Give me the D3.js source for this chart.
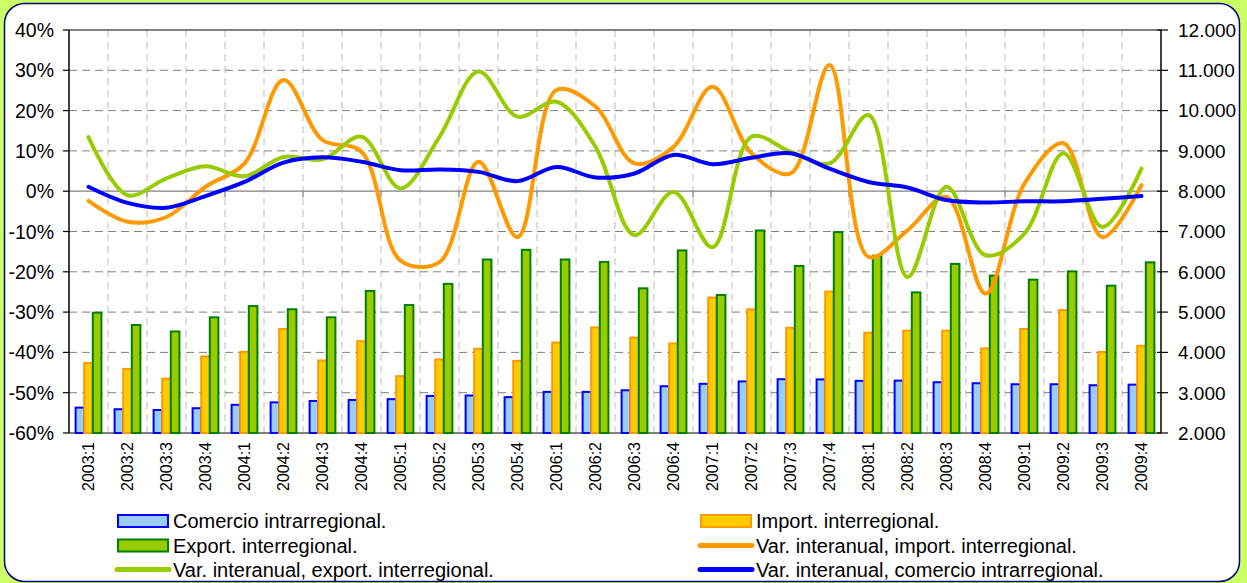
<!DOCTYPE html>
<html>
<head>
<meta charset="utf-8">
<script src="https://cdn.jsdelivr.net/npm/d3@7"></script>
<style>
  body { margin: 0; background: #ccff66; }
  svg { display: block; font-family: "Liberation Sans", Arial, sans-serif; }
</style>
</head>
<body>
<svg id="chart" width="1247" height="583"></svg>
<script>
// quarters
const quarters = ["2003:1","2003:2","2003:3","2003:4","2004:1","2004:2","2004:3","2004:4",
  "2005:1","2005:2","2005:3","2005:4","2006:1","2006:2","2006:3","2006:4",
  "2007:1","2007:2","2007:3","2007:4","2008:1","2008:2","2008:3","2008:4",
  "2009:1","2009:2","2009:3","2009:4"];

// bars (right axis)
const comercioIntra = [2630,2590,2570,2615,2700,2760,2795,2820,2840,2920,2930,2890,3020,3020,
  3060,3160,3220,3280,3335,3330,3295,3300,3260,3235,3210,3210,3185,3200];
const importInter = [3735,3590,3350,3900,4015,4580,3800,4280,3410,3825,4090,3790,4245,4620,
  4365,4220,5360,5070,4610,5510,4490,4540,4540,4100,4580,5050,4010,4165];
const exportInter = [4985,4680,4520,4870,5150,5070,4870,5525,5175,5700,6305,6545,6305,6245,
  5590,6530,5425,7025,6145,6985,6400,5490,6195,5905,5805,6010,5655,6235];

// year-on-year change (left axis, %)
const varImport = [-2.4,-7.6,-6.4,1.1,6.9,27.6,12.7,9.8,-17.2,-17.6,7.3,-11.4,25.1,21.0,
  6.9,11.0,25.9,9.4,4.4,31.3,-16.3,-9.7,-1.4,-25.4,1.9,11.9,-11.4,1.5];
const varExport = [13.4,-1.0,3.2,6.2,3.7,8.5,7.9,13.5,0.7,13.5,29.7,18.5,22.2,11.0,
  -10.9,-0.2,-13.9,13.5,9.8,6.9,18.9,-21.3,1.1,-15.9,-10.5,9.4,-8.9,5.6];
const varComercio = [1.1,-2.9,-4.1,-1.2,2.3,7.1,8.4,7.3,5.2,5.4,4.8,2.5,6.0,3.4,
  4.4,9.0,6.7,8.3,9.4,5.6,2.3,0.9,-2.2,-2.8,-2.5,-2.5,-1.9,-1.2];

const leftTicks = [-60,-50,-40,-30,-20,-10,0,10,20,30,40];
const rightTicks = [2000,3000,4000,5000,6000,7000,8000,9000,10000,11000,12000];

const svg = d3.select("#chart");

// white rounded panel
svg.append("rect")
  .attr("x", 4.5).attr("y", 3.5).attr("width", 1235).attr("height", 578)
  .attr("rx", 20).attr("ry", 20)
  .attr("fill", "#fff").attr("stroke", "#000080").attr("stroke-width", 1.5);

const plot = {left: 69, right: 1161, top: 30, bottom: 433};

let x = d3.scaleBand().domain(quarters).range([plot.left, plot.right]).padding(0);
let yL = d3.scaleLinear().domain([-60, 40]).range([plot.bottom, plot.top]);
let yR = d3.scaleLinear().domain([2000, 12000]).range([plot.bottom, plot.top]);

let g = svg.append("g");

// vertical grid at category boundaries
g.selectAll(".vgrid").data(quarters.slice(1)).enter().append("line")
  .attr("class", "vgrid")
  .attr("x1", d => x(d)).attr("x2", d => x(d))
  .attr("y1", plot.top).attr("y2", plot.bottom)
  .attr("stroke", "#c8c8c8").attr("stroke-width", 1.2).attr("stroke-dasharray", "7,5");

// horizontal grid
g.selectAll(".hgrid").data(leftTicks.filter(t => t !== 0 && t !== -60 && t !== 40)).enter().append("line")
  .attr("class", "hgrid")
  .attr("x1", plot.left).attr("x2", plot.right)
  .attr("y1", d => yL(d)).attr("y2", d => yL(d))
  .attr("stroke", "#808080").attr("stroke-width", 1).attr("stroke-dasharray", "8,5");

// top, zero and bottom lines
[[40, 2], [0, 1.2], [-60, 2]].forEach(([v, w]) => {
  g.append("line")
    .attr("x1", plot.left).attr("x2", plot.right)
    .attr("y1", yL(v)).attr("y2", yL(v))
    .attr("stroke", "#808080").attr("stroke-width", w);
});

// small ticks on the zero line every two quarters
g.selectAll(".ztick").data(quarters.filter((d, i) => i > 0 && i % 2 === 0)).enter().append("line")
  .attr("x1", d => x(d)).attr("x2", d => x(d))
  .attr("y1", yL(0)).attr("y2", yL(0) + 6)
  .attr("stroke", "#808080").attr("stroke-width", 1.2);

// bars
const barW = 8.6;
const barSeries = [
  {vals: comercioIntra, fill: "#99ccff", stroke: "#0000ff"},
  {vals: importInter, fill: "#ffcc00", stroke: "#ff9900"},
  {vals: exportInter, fill: "#99cc00", stroke: "#008000"}
];
barSeries.forEach((s, k) => {
  g.selectAll(".bar" + k).data(s.vals).enter().append("rect")
    .attr("x", (d, i) => x(quarters[i]) + x.bandwidth() / 2 + (k - 1.5) * barW)
    .attr("y", d => yR(d))
    .attr("width", barW)
    .attr("height", d => yR(2000) - yR(d))
    .attr("fill", s.fill).attr("stroke", s.stroke).attr("stroke-width", 2);
});

// smoothed lines
const lineSeries = [
  {vals: varImport, color: "#ff9900"},
  {vals: varExport, color: "#99cc00"},
  {vals: varComercio, color: "#0000ff"}
];
let line = d3.line()
  .x((d, i) => x(quarters[i]) + x.bandwidth() / 2)
  .y(d => yL(d))
  .curve(d3.curveCatmullRom.alpha(0.5));
lineSeries.forEach(s => {
  g.append("path").datum(s.vals)
    .attr("d", line)
    .attr("fill", "none").attr("stroke", s.color).attr("stroke-width", 4)
    .attr("stroke-linejoin", "round").attr("stroke-linecap", "round");
});

// left axis
g.append("line").attr("x1", plot.left).attr("x2", plot.left)
  .attr("y1", plot.top).attr("y2", plot.bottom).attr("stroke", "#000").attr("stroke-width", 1.5);
g.selectAll(".ltick").data(leftTicks).enter().append("line")
  .attr("x1", plot.left - 6).attr("x2", plot.left)
  .attr("y1", d => yL(d)).attr("y2", d => yL(d)).attr("stroke", "#000").attr("stroke-width", 1.2);
g.selectAll(".llabel").data(leftTicks).enter().append("text")
  .attr("x", 54).attr("y", d => yL(d)).attr("dy", "0.36em")
  .attr("text-anchor", "end").attr("font-size", 19.5).attr("fill", "#000")
  .text(d => d + "%");

// right axis
g.append("line").attr("x1", plot.right).attr("x2", plot.right)
  .attr("y1", plot.top).attr("y2", plot.bottom).attr("stroke", "#000").attr("stroke-width", 1.5);
g.selectAll(".rtick").data(rightTicks).enter().append("line")
  .attr("x1", plot.right - 4).attr("x2", plot.right + 7)
  .attr("y1", d => yR(d)).attr("y2", d => yR(d)).attr("stroke", "#000").attr("stroke-width", 1.2);
let fmt = d3.formatLocale({decimal: ",", thousands: ".", grouping: [3], currency: ["", ""]}).format(",d");
g.selectAll(".rlabel").data(rightTicks).enter().append("text")
  .attr("x", 1178).attr("y", d => yR(d)).attr("dy", "0.36em")
  .attr("text-anchor", "start").attr("font-size", 19).attr("fill", "#000")
  .text(d => fmt(d));

// category labels
g.selectAll(".xlabel").data(quarters).enter().append("text")
  .attr("transform", d => `translate(${x(d) + x.bandwidth() / 2},442) rotate(-90)`)
  .attr("dy", "0.36em")
  .attr("text-anchor", "end").attr("font-size", 16).attr("fill", "#000")
  .text(d => d);

// legend
const legendItems = [
  {label: "Comercio intrarregional.", type: "box", fill: "#99ccff", stroke: "#0000ff", col: 0, row: 0},
  {label: "Import. interregional.", type: "box", fill: "#ffcc00", stroke: "#ff9900", col: 1, row: 0},
  {label: "Export. interregional.", type: "box", fill: "#99cc00", stroke: "#008000", col: 0, row: 1},
  {label: "Var. interanual, import. interregional.", type: "line", stroke: "#ff9900", col: 1, row: 1},
  {label: "Var. interanual, export. interregional.", type: "line", stroke: "#99cc00", col: 0, row: 2},
  {label: "Var. interanual, comercio intrarregional.", type: "line", stroke: "#0000ff", col: 1, row: 2}
];
const colX = [117, 700];
const rowY = [521, 545.5, 569.5];
let leg = svg.append("g");
legendItems.forEach(it => {
  let lx = colX[it.col], ly = rowY[it.row];
  if (it.type === "box") {
    leg.append("rect").attr("x", lx + 1).attr("y", ly - 6).attr("width", 50).attr("height", 12)
      .attr("fill", it.fill).attr("stroke", it.stroke).attr("stroke-width", 2);
  } else {
    leg.append("line").attr("x1", lx).attr("x2", lx + 52).attr("y1", ly).attr("y2", ly)
      .attr("stroke", it.stroke).attr("stroke-width", 5).attr("stroke-linecap", "round");
  }
  leg.append("text").attr("x", lx + 56).attr("y", ly).attr("dy", "0.36em")
    .attr("font-size", 20).attr("fill", "#000").text(it.label);
});
</script>
</body>
</html>
